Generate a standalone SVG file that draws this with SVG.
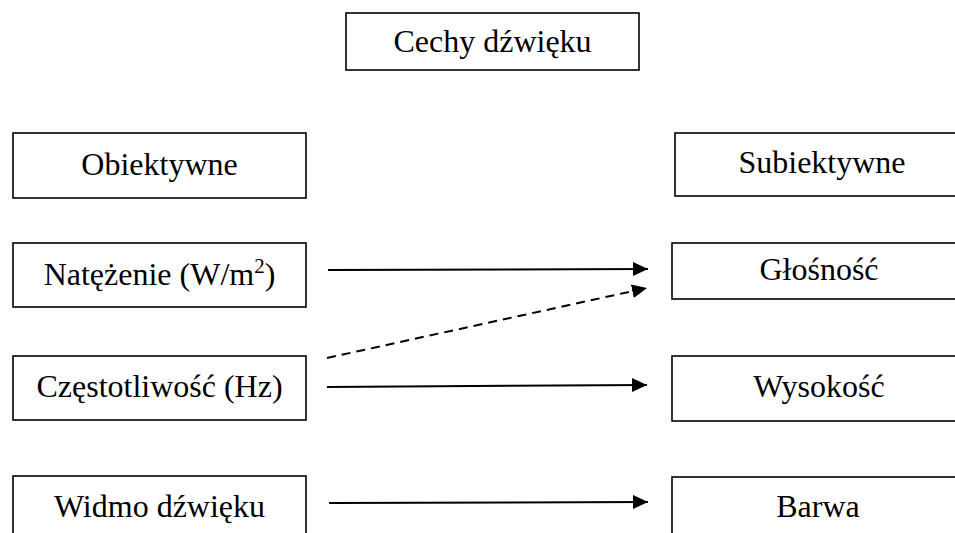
<svg xmlns="http://www.w3.org/2000/svg" width="955" height="533" viewBox="0 0 955 533">
<style>
.box{fill:#fff;stroke:#000;stroke-width:1.6}
.lbl{font-family:"Liberation Serif","Times New Roman",serif;font-size:32px;fill:#000;text-anchor:middle}
.arr{stroke:#000;stroke-width:2;fill:none}
.dash{stroke-dasharray:9 6}
</style>
<defs>
<marker id="ah" markerUnits="userSpaceOnUse" markerWidth="16" markerHeight="16" refX="15" refY="7" orient="auto">
<path d="M0,0 L15,7 L0,14 Z" fill="#000"/>
</marker>
</defs>
<rect width="955" height="533" fill="#fff"/>
<g id="cechy"><rect class="box" x="346" y="13" width="293" height="57"/><text class="lbl" x="492.5" y="52">Cechy dźwięku</text></g>
<g id="obiektywne"><rect class="box" x="13" y="133" width="293" height="65"/><text class="lbl" x="159.5" y="175">Obiektywne</text></g>
<g id="natezenie"><rect class="box" x="13" y="243" width="293" height="64"/><text class="lbl" x="159.5" y="285">Natężenie (W/m<tspan font-size="21" dy="-12">2</tspan><tspan dy="12">)</tspan></text></g>
<g id="czestotliwosc"><rect class="box" x="13" y="356" width="293" height="64"/><text class="lbl" x="159.5" y="397">Częstotliwość (Hz)</text></g>
<g id="widmo"><rect class="box" x="13" y="476" width="293" height="70"/><text class="lbl" x="159.5" y="517">Widmo dźwięku</text></g>
<g id="subiektywne"><rect class="box" x="675" y="133" width="290" height="63"/><text class="lbl" x="822" y="173">Subiektywne</text></g>
<g id="glosnosc"><rect class="box" x="672" y="243" width="293" height="56"/><text class="lbl" x="819" y="280">Głośność</text></g>
<g id="wysokosc"><rect class="box" x="672" y="356" width="293" height="65"/><text class="lbl" x="819" y="397">Wysokość</text></g>
<g id="barwa"><rect class="box" x="672" y="477" width="293" height="70"/><text class="lbl" x="818" y="517">Barwa</text></g>
<g id="connectors">
<line class="arr" x1="328" y1="270" x2="648" y2="269" marker-end="url(#ah)"/>
<line class="arr dash" x1="327" y1="358" x2="647" y2="288" marker-end="url(#ah)"/>
<line class="arr" x1="327" y1="387" x2="647" y2="385" marker-end="url(#ah)"/>
<line class="arr" x1="329" y1="503" x2="648" y2="502" marker-end="url(#ah)"/>
</g>
</svg>
